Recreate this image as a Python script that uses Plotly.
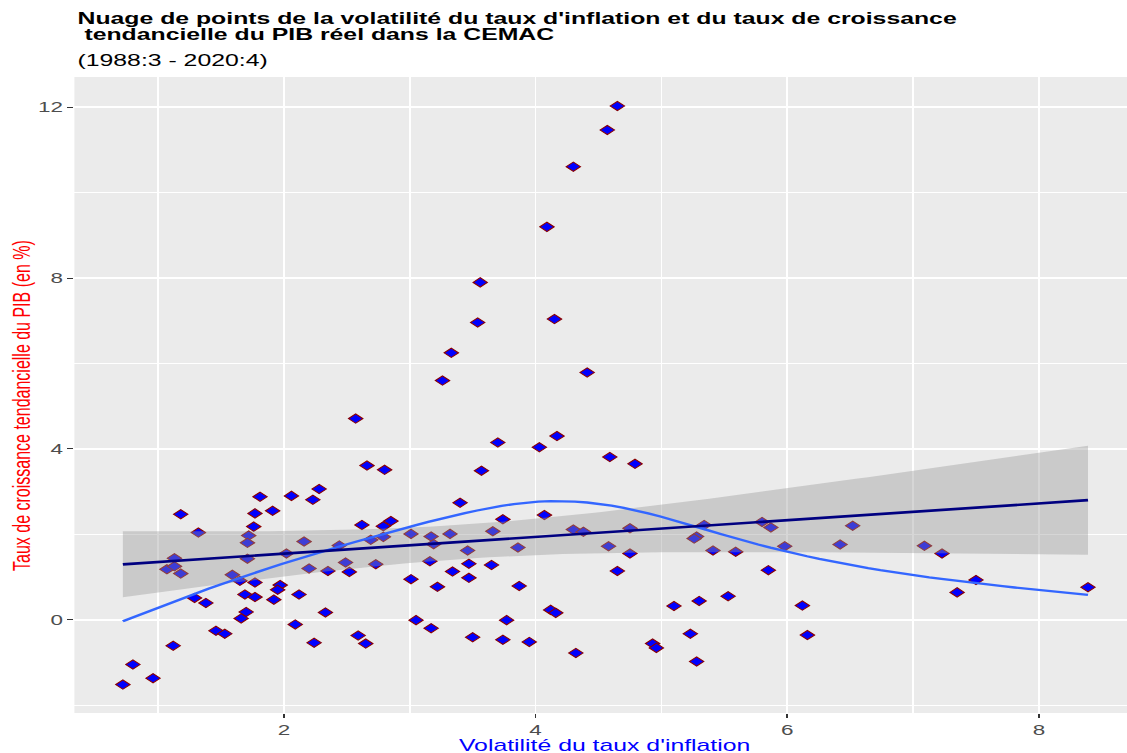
import numpy as np
import plotly.graph_objects as go

# Volatilité du taux d'inflation (x) et taux de croissance tendanciel du PIB réel (y), CEMAC
volatilite = [
    0.72, 0.80, 0.96, 1.12, 1.18, 1.32, 1.13, 1.07, 1.13, 1.18, 1.29, 1.38, 1.46, 1.53, 1.59,
    1.65, 1.77, 1.69, 1.77, 1.70, 1.66, 1.81, 1.77, 1.91, 1.76, 1.72, 1.71, 1.71, 2.06, 2.23,
    2.28, 2.16, 2.02, 2.20, 1.97, 1.95, 1.92, 2.12, 2.09, 2.24,
    3.26, 2.57, 3.70, 4.03, 4.17, 2.66, 2.80, 3.57, 3.40, 2.62, 2.79, 2.85, 3.74, 4.07, 4.30,
    2.44, 2.69, 2.79, 3.01, 3.17, 3.19, 3.32, 3.66, 3.46, 3.86, 2.35, 2.49, 2.52, 2.73, 3.16,
    3.34, 3.47, 3.47, 3.65, 3.01, 3.22, 3.87, 2.33, 3.05, 3.17, 3.77, 4.12, 4.16, 2.59, 2.65,
    3.50, 3.74, 3.95, 4.32,
    4.59, 4.79, 4.38, 4.75, 4.58, 4.75, 4.65, 5.34, 5.28, 5.26, 5.41, 5.59, 5.80, 5.87, 5.98,
    5.85, 5.10, 5.30, 5.53, 6.12, 4.93, 4.96, 5.23, 5.28, 6.16,
    6.42, 6.52, 7.09, 7.23, 7.50, 7.35, 8.39,
    4.65, 4.57, 4.30, 4.09, 3.56, 3.54, 4.15, 3.33, 4.41,
]
croissance = [
    -1.52, -1.05, -1.37, -0.61, 2.47, 2.04, 1.44, 1.18, 1.25, 1.08, 0.51, 0.39, -0.26, -0.33, 1.05,
    0.91, 0.87, 0.59, 0.53, 0.18, 0.03, 2.88, 2.49, 2.55, 2.18, 1.97, 1.80, 1.43, 2.90, 2.81,
    3.06, 1.83, 1.55, 1.20, 0.81, 0.70, 0.47, 0.59, -0.11, -0.54,
    5.60, 4.71, 4.15, 4.04, 4.30, 3.61, 3.51, 3.49, 2.74, 2.22, 2.19, 2.31, 2.35, 2.45, 2.11,
    1.74, 1.87, 1.94, 2.01, 1.95, 1.77, 2.01, 2.07, 1.62, 1.69, 1.14, 1.34, 1.12, 1.30, 1.37,
    1.13, 1.31, 0.98, 1.28, 0.95, 0.77, 0.79, 0.17, -0.01, -0.20, -0.01, 0.23, 0.16, -0.37, -0.56,
    -0.41, -0.47, -0.52, -0.78,
    3.81, 3.65, 2.06, 2.14, 1.72, 1.55, 1.14, 2.22, 1.95, 1.90, 1.62, 1.59, 2.29, 2.16, 1.72,
    1.16, 0.32, 0.44, 0.55, 0.33, -0.56, -0.66, -0.33, -0.98, -0.36,
    1.76, 2.20, 1.73, 1.55, 0.93, 0.64, 0.76,
    12.03, 11.47, 10.61, 9.20, 7.90, 6.96, 7.04, 6.25, 5.79,
]

x_ticks = [2, 4, 6, 8]
y_ticks = [0, 4, 8, 12]

x = np.array(volatilite)
y = np.array(croissance)
n = len(x)
grid = np.linspace(x.min(), x.max(), 80)

# ---- Linear fit with 95% confidence band ----
X = np.column_stack([np.ones(n), x])
beta, *_ = np.linalg.lstsq(X, y, rcond=None)
resid = y - X @ beta
df = n - 2
sigma2 = resid @ resid / df
XtX_inv = np.linalg.inv(X.T @ X)
G = np.column_stack([np.ones_like(grid), grid])
fit_lm = G @ beta
se_fit = np.sqrt(sigma2 * np.einsum("ij,jk,ik->i", G, XtX_inv, G))
z = 1.959964
t_crit = z + (z**3 + z) / (4 * df) + (5 * z**5 + 16 * z**3 + 3 * z) / (96 * df**2)
upper = fit_lm + t_crit * se_fit
lower = fit_lm - t_crit * se_fit


# ---- Penalised natural cubic spline (10 knots at quantiles), smoothing chosen by REML ----
def spline_smooth(xs, ys, x_eval, n_knots=10):
    ux = np.unique(xs)
    k = np.interp(np.linspace(0, len(ux) - 1, n_knots), np.arange(len(ux)), ux)
    m = len(k)
    kern = lambda a, b: np.abs(a[:, None] - b[None, :]) ** 3 / 12.0
    Tk = np.column_stack([np.ones(m), k])
    Q, _ = np.linalg.qr(Tk, mode="complete")
    Z = Q[:, 2:]
    Xd = np.column_stack([kern(xs, k) @ Z, np.ones(len(xs)), xs])
    p = Xd.shape[1]
    S = np.zeros((p, p))
    S[: m - 2, : m - 2] = Z.T @ kern(k, k) @ Z
    S = (S + S.T) / 2
    r = m - 2
    nn = len(xs)
    best = None
    for lam in np.logspace(-5, 4, 361):
        A = Xd.T @ Xd + lam * S
        coef = np.linalg.solve(A, Xd.T @ ys)
        rss = np.sum((ys - Xd @ coef) ** 2)
        pen = coef @ S @ coef
        _, logdet = np.linalg.slogdet(A)
        score = (nn - 2) * np.log(rss + lam * pen) + logdet - r * np.log(lam)
        if best is None or score < best[0]:
            best = (score, coef)
    coef = best[1]
    Xe = np.column_stack([kern(x_eval, k) @ Z, np.ones(len(x_eval)), x_eval])
    return Xe @ coef


fit_sm = spline_smooth(x, y, grid)

fig = go.Figure()

fig.add_trace(go.Scatter(
    x=volatilite, y=croissance, mode="markers",
    marker=dict(symbol="diamond", size=7.1, color="#0000FF",
                line=dict(color="#8B0000", width=0.9)),
    showlegend=False, hoverinfo="x+y",
))

fig.add_trace(go.Scatter(
    x=np.concatenate([grid, grid[::-1]]),
    y=np.concatenate([upper, lower[::-1]]),
    fill="toself", fillcolor="rgba(153,153,153,0.4)",
    line=dict(width=0), mode="lines", showlegend=False, hoverinfo="skip",
))

fig.add_trace(go.Scatter(
    x=grid, y=fit_sm, mode="lines",
    line=dict(color="#3366FF", width=2.3), showlegend=False,
))

fig.add_trace(go.Scatter(
    x=grid, y=fit_lm, mode="lines",
    line=dict(color="#000080", width=2.7), showlegend=False,
))

# Page geometry: the figure is laid out at W0 and widened to the full page width
W_PAGE, H = 1127, 753
STRETCH = 1.55
W0 = round(W_PAGE / STRETCH)
sx = W_PAGE / W0
m_left = 75 / sx
m_top, m_bottom = 77.3, 39.7
plot_w = W0 - m_left
plot_h = H - m_top - m_bottom


def ypaper(py):
    return (H - m_bottom - py) / plot_h


def xpaper(px):
    return (px / sx - m_left) / plot_w


FONT = "Liberation Sans, Arial, Helvetica, sans-serif"

fig.add_annotation(
    text="<b>Nuage de points de la volatilité du taux d'inflation et du taux de croissance</b>",
    xref="paper", yref="paper", x=0, y=ypaper(8.6), xanchor="left", yanchor="top",
    align="left", showarrow=False, font=dict(family=FONT, size=16, color="black"),
)
fig.add_annotation(
    text="<b>\u00a0tendancielle du PIB réel dans la CEMAC</b>",
    xref="paper", yref="paper", x=0, y=ypaper(24.6), xanchor="left", yanchor="top",
    align="left", showarrow=False, font=dict(family=FONT, size=16, color="black"),
)
fig.add_annotation(
    text="(1988:3 - 2020:4)",
    xref="paper", yref="paper", x=0, y=ypaper(50.8), xanchor="left", yanchor="top",
    align="left", showarrow=False, font=dict(family=FONT, size=16, color="black"),
)
fig.add_annotation(
    text="Volatilité du taux d'inflation",
    xref="paper", yref="paper", x=xpaper(605), y=ypaper(735), xanchor="center", yanchor="top",
    showarrow=False, font=dict(family=FONT, size=16, color="#0000FF"),
)
fig.add_annotation(
    text="Taux de croissance tendancielle du PIB (en %)",
    xref="paper", yref="paper", x=xpaper(22), y=ypaper(405.5), xanchor="center", yanchor="middle",
    textangle=-90, showarrow=False, font=dict(family=FONT, size=16, color="#FF0000"),
)

tick_common = dict(
    zeroline=False, showline=False,
    ticks="outside", ticklen=3.5, tickwidth=1.2, tickcolor="#333333",
    tickfont=dict(family=FONT, size=14.5, color="#4D4D4D"),
)

fig.update_layout(
    width=W0, height=H,
    margin=dict(l=m_left, r=0, t=m_top, b=m_bottom, pad=0),
    paper_bgcolor="white", plot_bgcolor="#EBEBEB",
    xaxis=dict(
        range=[0.335, 8.70], tickvals=x_ticks, ticktext=[str(v) for v in x_ticks],
        showgrid=True, gridcolor="white", gridwidth=1.3,
        minor=dict(dtick=1, tick0=0, showgrid=True, gridcolor="white", gridwidth=0.7, ticks=""),
        **tick_common,
    ),
    yaxis=dict(
        range=[-2.185, 12.71], tickvals=y_ticks, ticktext=[str(v) for v in y_ticks],
        showgrid=True, gridcolor="white", gridwidth=1.8,
        minor=dict(dtick=2, tick0=0, showgrid=True, gridcolor="white", gridwidth=0.9, ticks=""),
        **tick_common,
    ),
)

widen = (
    "var gd = document.getElementById('{plot_id}');"
    "gd.style.transformOrigin = '0 0';"
    f"gd.style.transform = 'scaleX({sx:.5f})';"
)
fig.write_html("out.html", post_script=widen)
